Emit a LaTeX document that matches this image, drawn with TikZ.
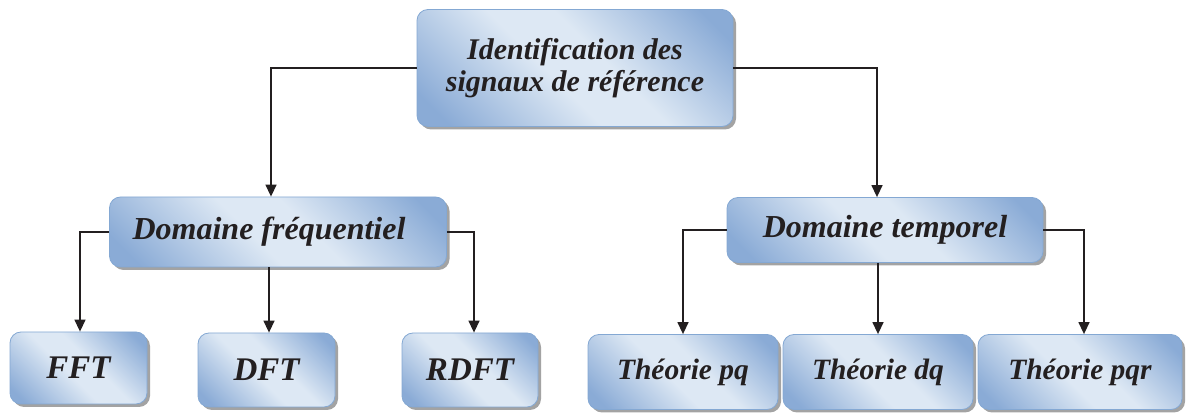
\documentclass[tikz,border=0pt]{standalone}
\usepackage{fontspec}
\setmainfont{Liberation Serif}
\usetikzlibrary{shadows,arrows.meta,calc}
\definecolor{bdark}{HTML}{8AABD6}
\definecolor{blight}{HTML}{DDE8F4}
\definecolor{bline}{HTML}{84A8D3}
\definecolor{txt}{HTML}{231F20}
\pgfdeclarehorizontalshading{boxshade}{100bp}{color(0bp)=(bdark); color(20bp)=(bdark); color(45bp)=(blight); color(56bp)=(blight); color(80bp)=(bdark); color(100bp)=(bdark)}
\begin{document}
\begin{tikzpicture}[x=1pt,y=-1pt,
  box/.style={draw=bline, line width=0.8pt, rounded corners=11pt,
    shading=boxshade, shading angle=45,
    drop shadow={shadow xshift=3pt, shadow yshift=-3pt, fill=black!45, opacity=0.8},
    inner sep=0pt, align=center, text=txt},
  big/.style={font=\bfseries\itshape\fontsize{32}{34}\selectfont},
  mid/.style={font=\bfseries\itshape\fontsize{29.5}{31}\selectfont},
  conn/.style={line width=1.4pt, draw=txt},
  arr/.style={conn, -{Triangle[length=12pt,width=11pt]}}]
\useasboundingbox (0,0) rectangle (1187,419);
\node[box, minimum width=316pt, minimum height=117pt, font=\bfseries\itshape\fontsize{30}{32}\selectfont] (top) at (575,68) {Identification des\\signaux de référence};
\node[box, big, minimum width=337pt, minimum height=70pt] (dfreq) at (278,232) {\hspace*{-18pt}Domaine fréquentiel};
\node[box, big, minimum width=316pt, minimum height=65pt] (dtemp) at (885,230) {Domaine temporel};
\node[box, minimum width=137pt, minimum height=72pt, font=\bfseries\itshape\fontsize{33}{35}\selectfont] (fft) at (78.5,368) {FFT};
\node[box, minimum width=137pt, minimum height=74pt, font=\bfseries\itshape\fontsize{33}{35}\selectfont] (dft) at (266.5,370) {DFT};
\node[box, minimum width=136pt, minimum height=74pt, font=\bfseries\itshape\fontsize{33}{35}\selectfont] (rdft) at (470,370) {RDFT};
\node[box, mid, minimum width=190pt, minimum height=75pt] (pq) at (683,372) {Théorie pq};
\node[box, mid, minimum width=190pt, minimum height=75pt] (dq) at (878,372) {Théorie dq};
\node[box, mid, minimum width=204pt, minimum height=75pt] (pqr) at (1080,372) {Théorie pqr};
\draw[arr] (top.west) -| ([xshift=-7pt]dfreq.north);
\draw[arr] (top.east) -| ([xshift=-8pt]dtemp.north);
\draw[arr] (dfreq.west) -| ([xshift=1.5pt]fft.north);
\draw[arr] ([xshift=2.5pt]dft.north |- dfreq.south) -- ([xshift=2.5pt]dft.north);
\draw[arr] (dfreq.east) -| ([xshift=4pt]rdft.north);
\draw[arr] (dtemp.west) -| (pq.north);
\draw[arr] (dq.north |- dtemp.south) -- (dq.north);
\draw[arr] (dtemp.east) -| ([xshift=4pt]pqr.north);
\end{tikzpicture}
\end{document}
